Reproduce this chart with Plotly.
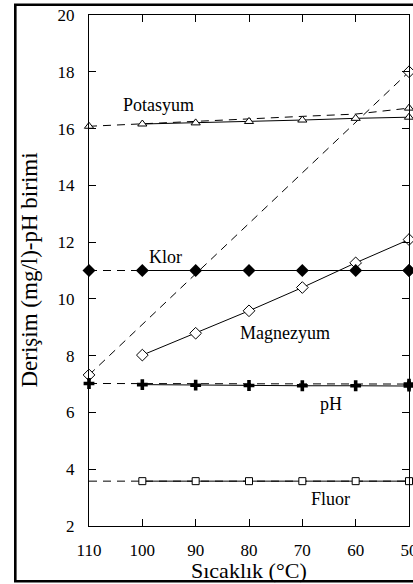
import plotly.graph_objects as go

# Temperatures (°C)
temps_full = [110, 100, 90, 80, 70, 60, 50]
temps_meas = [100, 90, 80, 70, 60, 50]
temps_ends = [110, 50]

# Potasyum
potasyum_meas = [16.16, 16.20, 16.25, 16.30, 16.36, 16.40]
potasyum_calc = [16.08, 16.16, 16.25, 16.34, 16.43, 16.51, 16.72]
# Magnezyum
magnezyum_meas = [8.02, 8.79, 9.58, 10.40, 11.27, 12.09]
magnezyum_calc = [7.32, 18.0]
# Klor
klor_meas = [11.0, 11.0, 11.0, 11.0, 11.0, 11.0]
klor_calc = [11.0, 11.0]
# pH
ph_meas = [6.98, 6.96, 6.95, 6.94, 6.94, 6.93]
ph_calc = [7.02, 7.0]
# Fluor
fluor_meas = [3.58, 3.58, 3.58, 3.58, 3.58, 3.58]
fluor_calc = [3.58, 3.58]

x_ticks = [110, 100, 90, 80, 70, 60, 50]
y_ticks = [2, 4, 6, 8, 10, 12, 14, 16, 18, 20]

# Series name labels placed next to the curves (temperature, value)
labels = [
    ("Potasyum", 96.9, 16.82),
    ("Klor", 95.6, 11.47),
    ("Magnezyum", 73.3, 8.80),
    ("pH", 64.6, 6.30),
    ("Fluor", 64.8, 2.95),
]

BLACK = "#000000"
DASH = "8px,6px"
FONT = "Times New Roman, Liberation Serif, DejaVu Serif, serif"

fig = go.Figure()


def dashed(x, y):
    fig.add_trace(go.Scatter(x=x, y=y, mode="lines",
                             line=dict(color=BLACK, width=1, dash=DASH),
                             showlegend=False, hoverinfo="skip", cliponaxis=False))


def marker_style(symbol, size, filled):
    return dict(symbol=symbol, size=size,
                color=BLACK if filled else "white",
                line=dict(color=BLACK, width=0 if filled else 1))


def solid(x, y, symbol, size, filled=False):
    fig.add_trace(go.Scatter(
        x=x, y=y, mode="lines+markers",
        line=dict(color=BLACK, width=1),
        marker=marker_style(symbol, size, filled),
        showlegend=False, cliponaxis=False))


def ends(x, y, symbol, size, filled=False):
    fig.add_trace(go.Scatter(
        x=x, y=y, mode="markers",
        marker=marker_style(symbol, size, filled),
        showlegend=False, cliponaxis=False))


# Dashed (calculated) curves
dashed(temps_full, potasyum_calc)
dashed(temps_ends, magnezyum_calc)
dashed(temps_ends, klor_calc)
dashed(temps_ends, ph_calc)
dashed(temps_ends, fluor_calc)

# Solid (measured) curves
solid(temps_meas, potasyum_meas, "triangle-up", 8)
solid(temps_meas, magnezyum_meas, "diamond", 9)
solid(temps_meas, klor_meas, "diamond", 10, filled=True)
solid(temps_meas, ph_meas, "cross", 9, filled=True)
solid(temps_meas, fluor_meas, "square", 7)

# End markers of the dashed curves
ends([temps_full[0], temps_full[-1]], [potasyum_calc[0], potasyum_calc[-1]], "triangle-up", 8)
ends(temps_ends, magnezyum_calc, "diamond", 9)
ends(temps_ends, klor_calc, "diamond", 10, filled=True)
ends(temps_ends, ph_calc, "cross", 9, filled=True)

for text, tx, ty in labels:
    fig.add_annotation(x=tx, y=ty, xref="x", yref="y", text=text, showarrow=False,
                       font=dict(family=FONT, size=18, color=BLACK),
                       xanchor="center", yanchor="middle")

# Axis titles
fig.add_annotation(x=0.5, y=-0.088, xref="paper", yref="paper", text="Sıcaklık (°C)",
                   showarrow=False, font=dict(family=FONT, size=22, color=BLACK),
                   xanchor="center", yanchor="middle")
fig.add_annotation(x=-0.1875, y=0.5, xref="paper", yref="paper",
                   text="Derişim (mg/l)-pH birimi", textangle=-90,
                   showarrow=False, font=dict(family=FONT, size=23, color=BLACK),
                   xanchor="center", yanchor="middle")

# Outer frame around the figure
fig.add_shape(type="rect", xref="paper", yref="paper",
              x0=-0.2303, x1=1.2, y0=-0.1082, y1=1.0202,
              line=dict(color=BLACK, width=2.6), fillcolor="rgba(0,0,0,0)", layer="above")

axis_common = dict(showgrid=False, zeroline=False, showline=True, linecolor=BLACK,
                   linewidth=1.2, mirror="ticks", ticks="inside", ticklen=7,
                   tickcolor=BLACK, tickwidth=1.2, ticklabeloverflow="allow",
                   tickfont=dict(family=FONT, size=17, color=BLACK))

fig.update_xaxes(range=[110, 50], tickvals=x_ticks, ticktext=[str(v) for v in x_ticks],
                 ticklabelstandoff=8, **axis_common)
fig.update_yaxes(range=[2, 20], tickvals=y_ticks, ticktext=[str(v) for v in y_ticks],
                 ticklabelstandoff=10, **axis_common)

fig.update_layout(
    width=413, height=584,
    margin=dict(l=89, r=4, t=15, b=58, autoexpand=False),
    paper_bgcolor="white", plot_bgcolor="white",
    font=dict(family=FONT, color=BLACK),
)

fig.write_html("out.html")
